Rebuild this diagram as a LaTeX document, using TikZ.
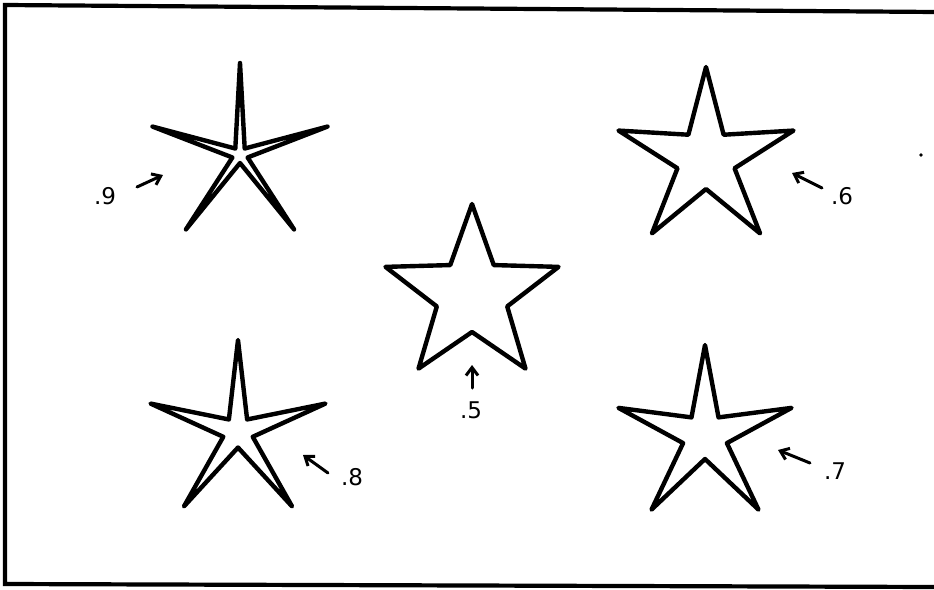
\documentclass[tikz,border=0pt]{standalone}
\usepackage{fontspec}
\setmainfont{DejaVu Sans}
\usetikzlibrary{arrows.meta}
\tikzset{
  starline/.style={draw=black, line width=4.4pt, line join=round, line cap=round},
  frameline/.style={draw=black, line width=4.2pt, line join=miter},
  ptr/.style={draw=black, line width=3pt, line cap=round, -{Straight Barb[length=8pt,width=12pt,line width=3pt]}},
  lbl/.style={font=\fontsize{23}{26}\selectfont, inner sep=0pt, text=black},
  pics/starshape/.style={code={
    \draw[starline] (-90:#1) \foreach \i in {0,...,4}{ -- ({-54+72*\i}:\starinner) -- ({-18+72*\i}:#1) } -- cycle;
  }}
}
\newcommand{\starinner}{10}
\begin{document}
\begin{tikzpicture}[x=1pt,y=-1pt]
\useasboundingbox (0,0) rectangle (934,589);
% frame
\draw[frameline] (936,12) -- (5,5) -- (5,584) -- (936,587);
% stars
\renewcommand{\starinner}{8}
\pic at (240,155) {starshape=92};
\renewcommand{\starinner}{30}
\pic at (706,159) {starshape=92};
\renewcommand{\starinner}{37}
\pic at (472,295) {starshape=91};
\renewcommand{\starinner}{15.5}
\pic at (238,432) {starshape=92};
\renewcommand{\starinner}{23}
\pic at (705,436) {starshape=91};
% labels
\node[lbl] (l9) at (105,196) {.9};
\node[lbl] (l6) at (842,196) {.6};
\node[lbl] (l5) at (471,410) {.5};
\node[lbl] (l8) at (352,477) {.8};
\node[lbl] (l7) at (835,471) {.7};
% arrow end points
\coordinate (a9s) at (137,187); \coordinate (a9e) at (163,175);
\coordinate (a6s) at (822,188); \coordinate (a6e) at (792,173);
\coordinate (a5s) at (472,388); \coordinate (a5e) at (472,365);
\coordinate (a8s) at (328,473); \coordinate (a8e) at (303,455);
\coordinate (a7s) at (810,463); \coordinate (a7e) at (778,450);
\draw[ptr] (a9s) -- (a9e);
\draw[ptr] (a6s) -- (a6e);
\draw[ptr] (a5s) -- (a5e);
\draw[ptr] (a8s) -- (a8e);
\draw[ptr] (a7s) -- (a7e);
% speck
\fill[black] (921,155) circle (1.8);
\end{tikzpicture}
\end{document}
